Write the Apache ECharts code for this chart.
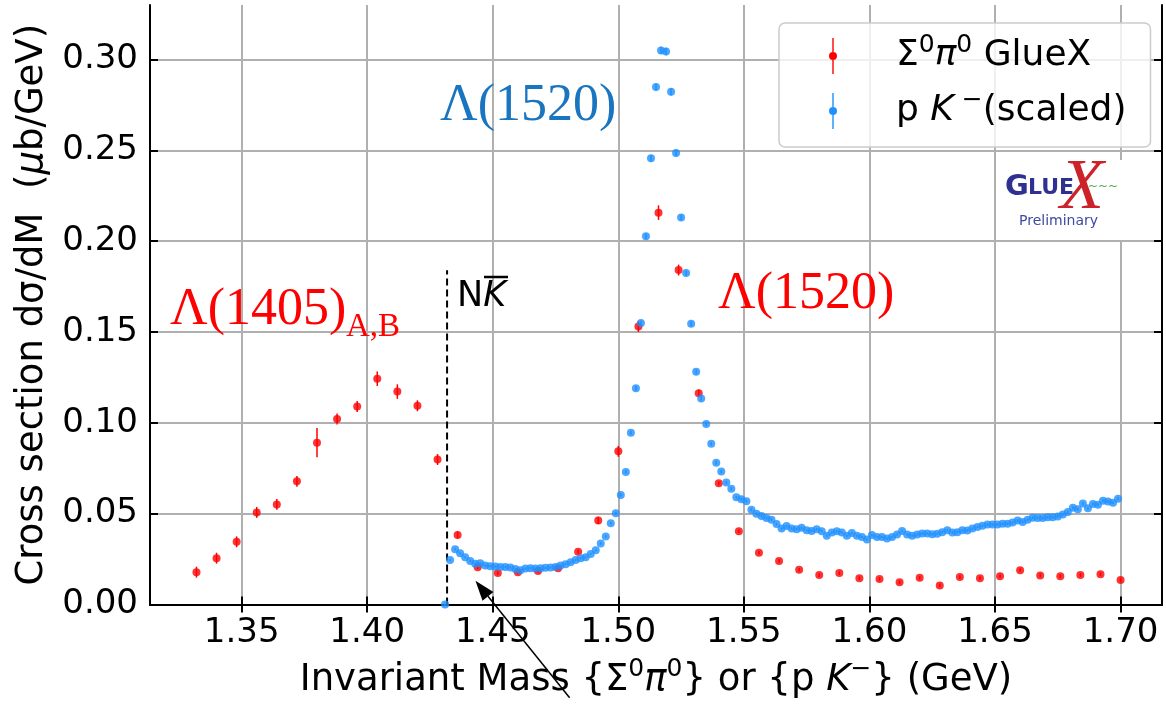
<!DOCTYPE html>
<html>
<head>
<meta charset="utf-8">
<script src="https://cdn.jsdelivr.net/npm/echarts@6/dist/echarts.min.js"></script>
<style>
html, body { margin: 0; padding: 0; background: #fff; }
#chart { width: 1166px; height: 704px; }
</style>
</head>
<body>
<div id="chart"></div>
<script>
// Σ0π0 GlueX points (GeV, µb/GeV)
var sigmaMass = [1.332, 1.340, 1.348, 1.356, 1.364, 1.372, 1.380, 1.388, 1.396, 1.404,
    1.412, 1.420, 1.428, 1.436, 1.444, 1.452, 1.460, 1.468, 1.476, 1.484,
    1.492, 1.500, 1.508, 1.516, 1.524, 1.532, 1.540, 1.548, 1.556, 1.564,
    1.572, 1.580, 1.588, 1.596, 1.604, 1.612, 1.620, 1.628, 1.636, 1.644,
    1.652, 1.660, 1.668, 1.676, 1.684, 1.692, 1.700];
var sigmaXsec = [0.0178, 0.0255, 0.0345, 0.0507, 0.0551, 0.0678, 0.0891, 0.1021, 0.109, 0.1243,
    0.1172, 0.1094, 0.0798, 0.0383, 0.0205, 0.0173, 0.0178, 0.0185, 0.020, 0.0291,
    0.0463, 0.0843, 0.153, 0.2157, 0.1841, 0.1163, 0.0667, 0.0403, 0.0285, 0.024,
    0.0191, 0.0162, 0.0173, 0.0145, 0.014, 0.0122, 0.0147, 0.0105, 0.0151, 0.0145,
    0.0156, 0.0189, 0.016, 0.0156, 0.0162, 0.0167, 0.0135];
var sigmaErr = [0.003, 0.003, 0.003, 0.003, 0.003, 0.003, 0.008, 0.003, 0.003, 0.004,
    0.004, 0.003, 0.003, 0.002, 0.001, 0.001, 0.001, 0.001, 0.001, 0.001,
    0.002, 0.003, 0.003, 0.004, 0.003, 0.002, 0.001, 0.001, 0.001, 0.001,
    0.001, 0.001, 0.001, 0.001, 0.001, 0.001, 0.001, 0.001, 0.001, 0.001,
    0.001, 0.001, 0.001, 0.001, 0.001, 0.001, 0.001];

// p K- points (scaled)
var pkMass = [1.431, 1.433, 1.435, 1.437, 1.439, 1.441, 1.443, 1.445, 1.447, 1.449,
    1.451, 1.453, 1.455, 1.457, 1.459, 1.461, 1.463, 1.465, 1.467, 1.469,
    1.471, 1.473, 1.475, 1.477, 1.479, 1.481, 1.483, 1.485, 1.487, 1.489,
    1.491, 1.493, 1.495, 1.497, 1.499, 1.501, 1.503, 1.505, 1.507, 1.509,
    1.511, 1.513, 1.515, 1.517, 1.519, 1.521, 1.523, 1.525, 1.527, 1.529,
    1.531, 1.533, 1.535, 1.537, 1.539, 1.541, 1.543, 1.545, 1.547, 1.549,
    1.551, 1.553, 1.555, 1.557, 1.559, 1.561, 1.563, 1.565, 1.567, 1.569,
    1.571, 1.573, 1.575, 1.577, 1.579, 1.581, 1.583, 1.585, 1.587, 1.589,
    1.591, 1.593, 1.595, 1.597, 1.599, 1.601, 1.603, 1.605, 1.607, 1.609,
    1.611, 1.613, 1.615, 1.617, 1.619, 1.621, 1.623, 1.625, 1.627, 1.629,
    1.631, 1.633, 1.635, 1.637, 1.639, 1.641, 1.643, 1.645, 1.647, 1.649,
    1.651, 1.653, 1.655, 1.657, 1.659, 1.661, 1.663, 1.665, 1.667, 1.669,
    1.671, 1.673, 1.675, 1.677, 1.679, 1.681, 1.683, 1.685, 1.687, 1.689,
    1.691, 1.693, 1.695, 1.697, 1.699];
var pkXsec = [0.0, 0.0245, 0.0304, 0.0282, 0.026, 0.024, 0.0224, 0.0227, 0.0214, 0.0211,
    0.0209, 0.0207, 0.0207, 0.0204, 0.0196, 0.0189, 0.0198, 0.020, 0.0198, 0.020,
    0.0202, 0.0204, 0.0207, 0.0214, 0.0222, 0.0232, 0.0245, 0.0255, 0.026, 0.0278,
    0.0298, 0.0336, 0.0374, 0.0447, 0.0502, 0.0603, 0.073, 0.0945, 0.119, 0.1549,
    0.2027, 0.2457, 0.2848, 0.305, 0.3044, 0.2822, 0.2486, 0.213, 0.1825, 0.1545,
    0.1281, 0.1134, 0.0994, 0.0885, 0.078, 0.0732, 0.0671, 0.0637, 0.059, 0.058,
    0.0569, 0.0522, 0.050, 0.0487, 0.0476, 0.0467, 0.0443, 0.0418, 0.0432, 0.0418,
    0.0414, 0.0422, 0.0409, 0.0405, 0.0414, 0.0403, 0.0378, 0.0396, 0.0403, 0.0396,
    0.0378, 0.0394, 0.0378, 0.0372, 0.0358, 0.0382, 0.0372, 0.0372, 0.0363, 0.0372,
    0.0385, 0.0405, 0.0385, 0.0378, 0.0385, 0.0391, 0.0391, 0.0387, 0.039, 0.0398,
    0.0409, 0.0396, 0.0398, 0.0409, 0.0407, 0.0418, 0.0427, 0.0433, 0.044, 0.044,
    0.044, 0.0444, 0.0444, 0.0451, 0.0462, 0.0454, 0.0467, 0.0478, 0.0476, 0.0476,
    0.048, 0.048, 0.0484, 0.0496, 0.0509, 0.0533, 0.0524, 0.0556, 0.053, 0.0553,
    0.0549, 0.0571, 0.0567, 0.056, 0.0582];
var pkErr = [0.0005, 0.0006, 0.0006, 0.0006, 0.0006, 0.0006, 0.0006, 0.0006, 0.0006, 0.0006,
    0.0006, 0.0006, 0.0006, 0.0006, 0.0006, 0.0006, 0.0006, 0.0006, 0.0006, 0.0006,
    0.0006, 0.0006, 0.0006, 0.0006, 0.0006, 0.0006, 0.0006, 0.0006, 0.0006, 0.0006,
    0.0006, 0.0007, 0.0007, 0.0008, 0.0008, 0.0009, 0.001, 0.0011, 0.0013, 0.0014,
    0.0016, 0.0018, 0.002, 0.002, 0.002, 0.002, 0.0018, 0.0016, 0.0015, 0.0014,
    0.0013, 0.0012, 0.0011, 0.001, 0.001, 0.0009, 0.0009, 0.0009, 0.0008, 0.0008,
    0.0008, 0.0008, 0.0008, 0.0008, 0.0008, 0.0008, 0.0007, 0.0007, 0.0007, 0.0007,
    0.0007, 0.0007, 0.0007, 0.0007, 0.0007, 0.0007, 0.0007, 0.0007, 0.0007, 0.0007,
    0.0007, 0.0007, 0.0007, 0.0007, 0.0007, 0.0007, 0.0007, 0.0007, 0.0007, 0.0007,
    0.0007, 0.0007, 0.0007, 0.0007, 0.0007, 0.0007, 0.0007, 0.0007, 0.0007, 0.0007,
    0.0007, 0.0007, 0.0007, 0.0007, 0.0007, 0.0007, 0.0007, 0.0007, 0.0007, 0.0007,
    0.0007, 0.0007, 0.0007, 0.0007, 0.0008, 0.0008, 0.0008, 0.0008, 0.0008, 0.0008,
    0.0008, 0.0008, 0.0008, 0.0008, 0.0008, 0.0008, 0.0008, 0.0008, 0.0008, 0.0008,
    0.0008, 0.0008, 0.0008, 0.0008, 0.0008];

var massTicks = [1.35, 1.40, 1.45, 1.50, 1.55, 1.60, 1.65, 1.70];
var xsecTicks = [0, 0.05, 0.10, 0.15, 0.20, 0.25, 0.30];

// N Kbar threshold and arrow (data coords)
var thresholdMass = 1.4318;
var thresholdTop = 0.184;
var arrowFrom = [1.4806, -0.0513];
var arrowTo = [1.4431, 0.0131];

var redColor = '#ff0000';
var blueColor = '#1e90ff';
var gridColor = '#b0b0b0';
var fontSans = 'DejaVu Sans';

function zip3(a, b, c) {
    return a.map(function (v, i) { return [v, b[i], c[i]]; });
}

function errorBars(color) {
    return function (params, api) {
        var x = api.value(0), y = api.value(1), e = api.value(2);
        var lo = api.coord([x, y - e]);
        var hi = api.coord([x, y + e]);
        return {
            type: 'line',
            shape: {x1: lo[0], y1: lo[1], x2: hi[0], y2: hi[1]},
            style: {stroke: color, lineWidth: 1.5}
        };
    };
}

var chart = echarts.init(document.getElementById('chart'));

var titleRich = {
    n: {fontFamily: fontSans, fontSize: 37, color: '#000', lineHeight: 48, verticalAlign: 'middle'},
    i: {fontFamily: fontSans, fontSize: 37, fontStyle: 'italic', color: '#000', lineHeight: 48, verticalAlign: 'middle'},
    sup: {fontFamily: fontSans, fontSize: 25, color: '#000', verticalAlign: 'top'}
};
var legendRich = {
    n: {fontFamily: fontSans, fontSize: 36, color: '#000', lineHeight: 46, verticalAlign: 'middle'},
    i: {fontFamily: fontSans, fontSize: 36, fontStyle: 'italic', color: '#000', lineHeight: 46, verticalAlign: 'middle'},
    sup: {fontFamily: fontSans, fontSize: 25, color: '#000', verticalAlign: 'top'}
};

var markerIcon = 'path://M4.3,0 L5.7,0 L5.7,36 L4.3,36 Z M5,14 A4,4 0 1,1 5,22 A4,4 0 1,1 5,14 Z';

var option = {
    animation: false,
    backgroundColor: '#fff',
    grid: {left: 150, right: 4, top: 5, bottom: 94},
    xAxis: [{
        type: 'value',
        min: 1.3135,
        max: 1.7165,
        position: 'bottom',
        name: 'Invariant Mass {Σ{sup|0}{i|π}{sup|0}} or {p {i|K}{sup|−}} (GeV)',
        nameLocation: 'middle',
        nameGap: 52,
        nameTextStyle: {fontFamily: fontSans, fontSize: 37, color: '#000', rich: titleRich},
        axisLine: {show: true, lineStyle: {color: '#000', width: 2}},
        axisTick: {show: true, inside: true, length: 8, lineStyle: {color: '#000', width: 2}, customValues: massTicks},
        axisLabel: {
            customValues: massTicks, margin: 12, fontFamily: fontSans, fontSize: 34, color: '#000',
            formatter: function (v) { return v.toFixed(2); }
        },
        splitLine: {show: true, lineStyle: {color: gridColor, width: 2}}
    }, {
        type: 'value',
        min: 1.3135,
        max: 1.7165,
        position: 'top',
        axisLine: {show: true, lineStyle: {color: '#000', width: 2}},
        axisTick: {show: true, inside: true, length: 8, lineStyle: {color: '#000', width: 2}, customValues: massTicks},
        axisLabel: {show: false, customValues: massTicks},
        splitLine: {show: false}
    }],
    yAxis: [{
        type: 'value',
        min: 0,
        max: 0.33,
        position: 'left',
        name: 'Cross section dσ/dM  ({i|μ}b/GeV)',
        nameLocation: 'middle',
        nameGap: 94,
        nameTextStyle: {fontFamily: fontSans, fontSize: 37, color: '#000', rich: titleRich},
        axisLine: {show: true, lineStyle: {color: '#000', width: 2}},
        axisTick: {show: true, inside: true, length: 8, lineStyle: {color: '#000', width: 2}, customValues: xsecTicks},
        axisLabel: {
            customValues: xsecTicks, margin: 12, fontFamily: fontSans, fontSize: 34, color: '#000',
            formatter: function (v) { return v.toFixed(2); }
        },
        splitLine: {show: true, lineStyle: {color: gridColor, width: 2}}
    }, {
        type: 'value',
        min: 0,
        max: 0.33,
        position: 'right',
        axisLine: {show: true, lineStyle: {color: '#000', width: 2}},
        axisTick: {show: true, inside: true, length: 8, lineStyle: {color: '#000', width: 2}, customValues: xsecTicks},
        axisLabel: {show: false, customValues: xsecTicks},
        splitLine: {show: false}
    }],
    legend: {
        orient: 'vertical',
        left: 779,
        top: 23,
        padding: [10, 24, 18, 50],
        itemGap: 14,
        itemWidth: 82,
        itemHeight: 36,
        backgroundColor: 'rgba(255,255,255,0.8)',
        borderColor: '#cccccc',
        borderWidth: 1.5,
        borderRadius: 6,
        data: [
            {name: 'sigma', icon: markerIcon, itemStyle: {color: redColor}},
            {name: 'pk', icon: markerIcon, itemStyle: {color: blueColor}}
        ],
        formatter: function (name) {
            return name === 'sigma'
                ? '{n|Σ}{sup|0}{i|π}{sup|0}{n| GlueX}'
                : '{n|p }{i|K}{sup| −}{n|(scaled)}';
        },
        textStyle: {padding: [0, 0, 0, 17], rich: legendRich}
    },
    series: [{
        name: 'sigma',
        type: 'custom',
        renderItem: errorBars(redColor),
        itemStyle: {color: redColor},
        encode: {x: 0, y: 1},
        data: zip3(sigmaMass, sigmaXsec, sigmaErr),
        z: 2
    }, {
        name: 'sigma',
        type: 'scatter',
        symbolSize: 8,
        itemStyle: {color: redColor},
        data: sigmaMass.map(function (m, i) { return [m, sigmaXsec[i]]; }),
        z: 3
    }, {
        name: 'pk',
        type: 'custom',
        renderItem: errorBars(blueColor),
        itemStyle: {color: blueColor},
        encode: {x: 0, y: 1},
        data: zip3(pkMass, pkXsec, pkErr),
        z: 4
    }, {
        name: 'pk',
        type: 'scatter',
        symbolSize: 8,
        itemStyle: {color: blueColor},
        data: pkMass.map(function (m, i) { return [m, pkXsec[i]]; }),
        z: 5
    }]
};

chart.setOption(option);

// annotations placed from data coordinates
var thBottom = chart.convertToPixel({xAxisIndex: 0, yAxisIndex: 0}, [thresholdMass, 0]);
var thTop = chart.convertToPixel({xAxisIndex: 0, yAxisIndex: 0}, [thresholdMass, thresholdTop]);
var a0 = chart.convertToPixel({xAxisIndex: 0, yAxisIndex: 0}, arrowFrom);
var a1 = chart.convertToPixel({xAxisIndex: 0, yAxisIndex: 0}, arrowTo);
var dx = a1[0] - a0[0], dy = a1[1] - a0[1];
var len = Math.sqrt(dx * dx + dy * dy), ux = dx / len, uy = dy / len;
var headLen = 20, headHalf = 7;
var bx = a1[0] - ux * headLen, by = a1[1] - uy * headLen;

var serif = '"Liberation Serif", "Times New Roman", serif';

chart.setOption({
    graphic: [
        {
            type: 'line', z: 1,
            shape: {x1: thBottom[0], y1: thBottom[1], x2: thTop[0], y2: thTop[1]},
            style: {stroke: '#000', lineWidth: 2, lineDash: [7, 4]}
        },
        {
            type: 'text', left: 457, top: 279, z: 10,
            style: {
                text: '{n|N}{i|K}',
                rich: {
                    n: {fontFamily: fontSans, fontSize: 35, color: '#000'},
                    i: {fontFamily: fontSans, fontSize: 35, fontStyle: 'italic', color: '#000'}
                }
            }
        },
        {
            type: 'line', z: 10,
            shape: {x1: 484, y1: 277, x2: 508, y2: 277},
            style: {stroke: '#000', lineWidth: 2.5}
        },
        {
            type: 'line', z: 10,
            shape: {x1: a0[0], y1: a0[1], x2: bx, y2: by},
            style: {stroke: '#000', lineWidth: 1.5}
        },
        {
            type: 'polygon', z: 10,
            shape: {points: [a1, [bx - uy * headHalf, by + ux * headHalf], [bx + uy * headHalf, by - ux * headHalf]]},
            style: {fill: '#000'}
        },
        {
            type: 'text', left: 440, top: 80, z: 10,
            style: {text: 'Λ(1520)', font: '52px ' + serif, fill: '#1a75c0'}
        },
        {
            type: 'text', left: 718, top: 268, z: 10,
            style: {text: 'Λ(1520)', font: '52px ' + serif, fill: redColor}
        },
        {
            type: 'text', left: 170, top: 284, z: 10,
            style: {text: 'Λ(1405)', font: '52px ' + serif, fill: redColor}
        },
        {
            type: 'text', left: 346, top: 311, z: 10,
            style: {text: 'A,B', font: '33px ' + serif, fill: redColor}
        },
        // GlueX logo
        {
            type: 'rect', z: 8,
            shape: {x: 1000, y: 160, width: 123, height: 80},
            style: {fill: '#fff'}
        },
        {
            type: 'text', left: 1005, top: 173, z: 10,
            style: {text: 'G', font: 'bold 29px ' + fontSans, fill: '#2e3192'}
        },
        {
            type: 'text', left: 1028, top: 177, z: 10,
            style: {text: 'LUE', font: 'bold 22px ' + fontSans, fill: '#2e3192'}
        },
        {
            type: 'text', left: 1088, top: 181, z: 9,
            style: {text: '~~~', font: '12px ' + fontSans, fill: '#4caf50'}
        },
        {
            type: 'text', left: 1060, top: 153, z: 10,
            style: {text: 'X', font: 'italic 72px ' + serif, fill: '#cc2229'}
        },
        {
            type: 'text', left: 1019, top: 214, z: 10,
            style: {text: 'Preliminary', font: '14px ' + fontSans, fill: '#3d4aa0'}
        }
    ]
});
</script>
</body>
</html>
